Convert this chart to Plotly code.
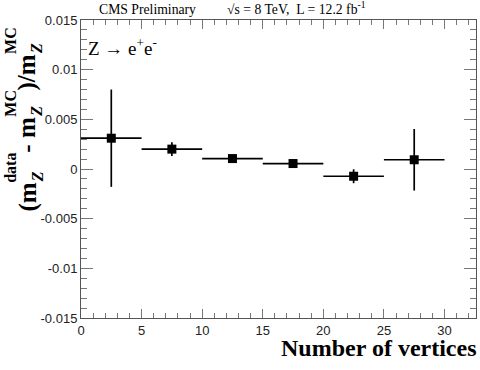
import plotly.graph_objects as go

# Z -> ee mass scale vs number of vertices
nvtx = [2.5, 7.5, 12.5, 17.5, 22.5, 27.5]
bin_half = [2.5, 2.5, 2.5, 2.5, 2.5, 2.5]
mass_shift = [0.0031, 0.0020, 0.00105, 0.00055, -0.00073, 0.00093]
mass_err = [0.0049, 0.0007, 0.0004, 0.0004, 0.0007, 0.0031]

y_ticks = [0.015, 0.01, 0.005, 0, -0.005, -0.01, -0.015]
y_ticklabels = ["0.015", "0.01", "0.005", "0", "-0.005", "-0.01", "-0.015"]
x_ticks = [0, 5, 10, 15, 20, 25, 30]

# y title pieces: (main text, superscript, subscript) - ROOT stacks sub/sup
ytitle_parts = [("(m", "data", "Z"), ("- m", "MC", "Z"), (")/m", "MC", "Z")]

serif = "Liberation Serif, Times New Roman, serif"
sans = "Liberation Sans, Arial, sans-serif"

fig = go.Figure()
fig.add_trace(
    go.Scatter(
        x=nvtx,
        y=mass_shift,
        mode="markers",
        marker=dict(symbol="square", size=9, color="black"),
        error_x=dict(type="data", array=bin_half, width=0, thickness=1.7, color="black"),
        error_y=dict(type="data", array=mass_err, width=0, thickness=1.7, color="black"),
        showlegend=False,
    )
)

fig.update_xaxes(
    range=[0, 32.6],
    tickvals=x_ticks,
    ticks="inside", ticklen=9, tickcolor="#777", tickwidth=1,
    minor=dict(dtick=1, ticks="inside", ticklen=5, tickcolor="#777"),
    showline=True, linecolor="#555", linewidth=1, mirror="allticks",
    showgrid=False, zeroline=False,
    tickfont=dict(family=sans, size=13, color="#222"),
)
fig.update_yaxes(
    range=[-0.015, 0.015],
    tickvals=y_ticks, ticktext=y_ticklabels,
    ticks="inside", ticklen=12, tickcolor="#777", tickwidth=1,
    minor=dict(dtick=0.001, ticks="inside", ticklen=6, tickcolor="#777"),
    showline=True, linecolor="#555", linewidth=1, mirror="allticks",
    showgrid=False, zeroline=False,
    tickfont=dict(family=sans, size=13, color="#222"),
)

# rough Times-Bold advance widths (em) to lay out the stacked y title
adv = {"(": .333, ")": .333, "m": .833, "-": .333, " ": .25, "/": .278,
       "d": .556, "a": .5, "t": .333, "M": .944, "C": .722, "Z": .667}


def text_w(s, size):
    return sum(adv[c] for c in s) * size


MAIN, SMALL = 25, 16
PLOT_L, PLOT_T = 81, 20


def add_vtext(text, bottom, cx, size):
    # rotated piece whose reading-start sits at figure pixel y=bottom
    fig.add_annotation(
        text=text, textangle=-90, showarrow=False,
        xref="paper", yref="paper", x=0, y=1,
        xshift=cx - PLOT_L, yshift=PLOT_T - bottom,
        xanchor="center", yanchor="bottom", borderpad=0,
        font=dict(family=serif, size=size, color="black"),
    )


pos = 213
for main, sup, sub in ytitle_parts:
    add_vtext("<b>%s</b>" % main, pos, 27, MAIN)
    pos -= text_w(main, MAIN)
    add_vtext("<b>%s</b>" % sup, pos, 11, SMALL)
    add_vtext("<b><i>%s</i></b>" % sub, pos, 37, SMALL)
    pos -= max(text_w(sup, SMALL), text_w(sub, SMALL))

fig.add_annotation(
    text="<b>Number of vertices</b>",
    xref="paper", yref="paper", x=1, y=0, xshift=2, yshift=-16,
    xanchor="right", yanchor="top", showarrow=False, borderpad=0,
    font=dict(family=serif, size=24, color="black"),
)
fig.add_annotation(
    text="Z \u2192 e<sup>+</sup>e<sup>-</sup>",
    xref="paper", yref="paper", x=0, y=1, xshift=5, yshift=-13,
    xanchor="left", yanchor="top", showarrow=False,
    font=dict(family=serif, size=19, color="black"),
)
fig.add_annotation(
    text="CMS Preliminary",
    xref="paper", yref="paper", x=0, y=1, xshift=16, yshift=1,
    xanchor="left", yanchor="bottom", showarrow=False,
    font=dict(family=serif, size=13.7, color="black"),
)
fig.add_annotation(
    text="\u221as = 8 TeV,  L = 12.2 fb<sup>-1</sup>",
    xref="paper", yref="paper", x=0, y=1, xshift=144, yshift=1,
    xanchor="left", yanchor="bottom", showarrow=False,
    font=dict(family=serif, size=13.7, color="black"),
)

fig.update_layout(
    width=480, height=370,
    margin=dict(l=PLOT_L, r=4, t=PLOT_T, b=52),
    plot_bgcolor="white", paper_bgcolor="white",
)

# drop the browser's default page margin and scrollbars so the figure sits at 0,0
fig.write_html(
    "out.html",
    config={"displayModeBar": False},
    post_script=(
        "document.body.style.margin='0';"
        "document.body.style.overflow='hidden';"
        "document.documentElement.style.overflow='hidden';"
    ),
)
